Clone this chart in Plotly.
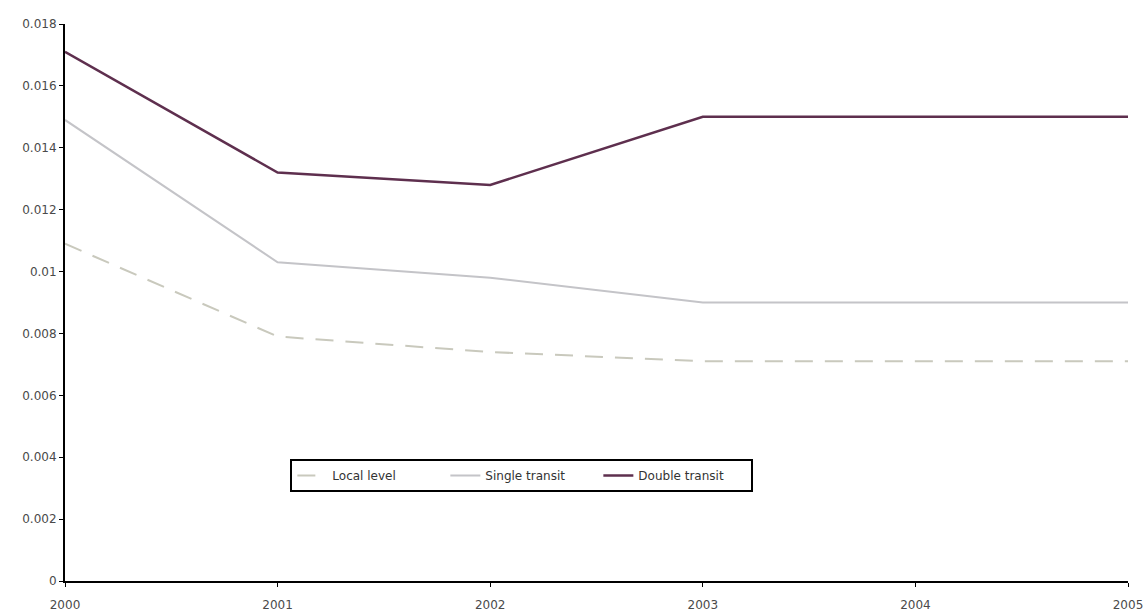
import plotly.graph_objects as go

years = [2000, 2001, 2002, 2003, 2004, 2005]
local_level = [0.0109, 0.0079, 0.0074, 0.0071, 0.0071, 0.0071]
single_transit = [0.0149, 0.0103, 0.0098, 0.0090, 0.0090, 0.0090]
double_transit = [0.0171, 0.0132, 0.0128, 0.0150, 0.0150, 0.0150]

y_ticks = [0, 0.002, 0.004, 0.006, 0.008, 0.01, 0.012, 0.014, 0.016, 0.018]
y_tick_labels = ["0", "0.002", "0.004", "0.006", "0.008", "0.01",
                 "0.012", "0.014", "0.016", "0.018"]

fig = go.Figure()
fig.add_trace(go.Scatter(x=years, y=local_level, mode="lines", name="Local level",
                         line=dict(color="#c9c9bd", width=2, dash="18px,12px")))
fig.add_trace(go.Scatter(x=years, y=single_transit, mode="lines", name="Single transit",
                         line=dict(color="#c4c4c8", width=2)))
fig.add_trace(go.Scatter(x=years, y=double_transit, mode="lines", name="Double transit",
                         line=dict(color="#5e2f4e", width=2.5)))

fig.update_layout(
    width=1148, height=613,
    margin=dict(l=65, r=20, t=24, b=32),
    paper_bgcolor="white", plot_bgcolor="white",
    font=dict(family="DejaVu Sans, Arial, sans-serif", size=12, color="#4a4a4a"),
    showlegend=True,
    legend=dict(orientation="h", x=0.212, y=0.219, xanchor="left", yanchor="top",
                bordercolor="black", borderwidth=2, bgcolor="white",
                font=dict(size=12, color="#333333"), itemwidth=30,
                entrywidth=108, tracegroupgap=0),
    xaxis=dict(range=[2000, 2005], tickvals=years, ticktext=[str(y) for y in years],
               showgrid=False, zeroline=False, showline=True, linecolor="black",
               linewidth=2, ticks="outside", ticklen=4, tickcolor="black",
               ticklabelstandoff=8, automargin=False),
    yaxis=dict(range=[0, 0.018], tickvals=y_ticks, ticktext=y_tick_labels,
               showgrid=False, zeroline=False, showline=True, linecolor="black",
               linewidth=2, ticks="outside", ticklen=4, tickcolor="black",
               automargin=False),
)

fig.write_html("out.html")
